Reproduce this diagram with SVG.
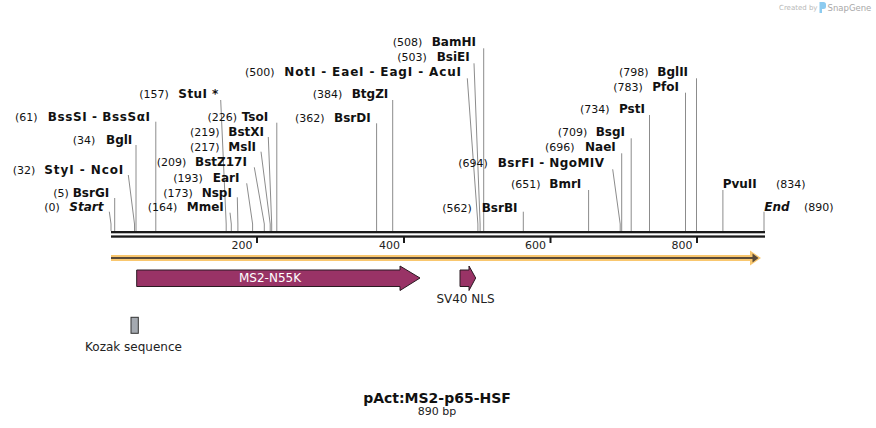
<svg xmlns="http://www.w3.org/2000/svg" width="876" height="428" viewBox="0 0 876 428">
<style>
.n{font-family:"DejaVu Sans",Verdana,sans-serif;font-size:11px;fill:#111}
.e{font-family:"DejaVu Sans",Verdana,sans-serif;font-size:12px;font-weight:bold;fill:#111}
.s{font-family:"DejaVu Sans",Verdana,sans-serif;font-size:12px;font-weight:bold;font-style:italic;fill:#111}
.ln{stroke:#8c8c8c;stroke-width:1;fill:none}
.lab{font-family:"DejaVu Sans",Verdana,sans-serif;font-size:12px;fill:#222}
.tk{font-family:"DejaVu Sans",Verdana,sans-serif;font-size:11px;fill:#222;text-anchor:end}
.feat{fill:#993366;stroke:#2a1a22;stroke-width:1}
</style>
<rect width="876" height="428" fill="#fff"/>
<g id="logo">
<text x="779" y="10" style="font-family:'DejaVu Sans',sans-serif;font-size:7px;fill:#b8b8b8">Created by</text>
<path d="M819.5 2 h4 a2.5 2.5 0 0 1 2.5 2.5 v2 a2.5 2.5 0 0 1 -2.5 2.5 h-1.5 v4 h-2.5 z" fill="#8ccbf0"/>
<text x="827.5" y="10.5" style="font-family:'DejaVu Sans',sans-serif;font-size:8.5px;fill:#a8a8a8">SnapGene</text>
</g>
<g id="connectors">
<polyline class="ln" points="483.7,48.3 483.7,231"/>
<polyline class="ln" points="474,63.3 480.1,224 480.1,231"/>
<polyline class="ln" points="467.3,78.3 477.9,224 477.9,231"/>
<polyline class="ln" points="696.5,78.3 696.5,231"/>
<polyline class="ln" points="685.5,92.7 685.5,231"/>
<polyline class="ln" points="220.7,100 226.2,224 226.2,231"/>
<polyline class="ln" points="392.7,100 392.7,231"/>
<polyline class="ln" points="649.5,115 649.5,231"/>
<polyline class="ln" points="155.8,121.7 155.8,231"/>
<polyline class="ln" points="376.6,123.3 376.6,231"/>
<polyline class="ln" points="276.8,122.7 276.8,231"/>
<polyline class="ln" points="268.3,137 271.7,224 271.7,231"/>
<polyline class="ln" points="631.2,138.3 631.2,231"/>
<polyline class="ln" points="136,145 136,231"/>
<polyline class="ln" points="261,151.7 270.2,224 270.2,231"/>
<polyline class="ln" points="621.7,153.3 621.7,231"/>
<polyline class="ln" points="254.3,167.3 264.3,224 264.3,231"/>
<polyline class="ln" points="612.7,169.3 620.2,224 620.2,231"/>
<polyline class="ln" points="128.3,175 134.5,224 134.5,231"/>
<polyline class="ln" points="246.7,183.3 252.6,224 252.6,231"/>
<polyline class="ln" points="588.6,190 588.6,231"/>
<polyline class="ln" points="722.9,190 722.9,231"/>
<polyline class="ln" points="237.3,197.3 237.9,224 237.9,231"/>
<polyline class="ln" points="114.7,198 114.7,231"/>
<polyline class="ln" points="230,212.7 231.3,224 231.3,231"/>
<polyline class="ln" points="109.3,211.7 111,224 111,231"/>
<polyline class="ln" points="523.3,211.7 523.3,231"/>
<polyline class="ln" points="764,211.7 764,231"/>
</g>
<g id="site-BamHI"><text class="n" x="392.7" y="46">(508)</text><text class="e" x="431.7" y="46">BamHI</text></g>
<g id="site-BsiEI"><text class="n" x="397.3" y="61">(503)</text><text class="e" x="436.7" y="61">BsiEI</text></g>
<g id="site-NotI"><text class="n" x="245" y="76">(500)</text><text class="e" x="284.3" y="76" textLength="176.7" lengthAdjust="spacing">NotI - EaeI - EagI - AcuI</text></g>
<g id="site-BglII"><text class="n" x="619" y="76">(798)</text><text class="e" x="657.3" y="76">BglII</text></g>
<g id="site-PfoI"><text class="n" x="613.3" y="91">(783)</text><text class="e" x="652.3" y="91">PfoI</text></g>
<g id="site-StuI"><text class="n" x="139.3" y="98">(157)</text><text class="e" x="178.3" y="98" textLength="40" lengthAdjust="spacing">StuI *</text></g>
<g id="site-BtgZI"><text class="n" x="312.7" y="98">(384)</text><text class="e" x="351.7" y="98">BtgZI</text></g>
<g id="site-PstI"><text class="n" x="580" y="113">(734)</text><text class="e" x="619" y="113">PstI</text></g>
<g id="site-BssSI"><text class="n" x="15" y="121">(61)</text><text class="e" x="47.7" y="121" textLength="102.3" lengthAdjust="spacing">BssSI - BssSαI</text></g>
<g id="site-BsrDI"><text class="n" x="295" y="121.5">(362)</text><text class="e" x="334" y="121.5">BsrDI</text></g>
<g id="site-TsoI"><text class="n" x="207.5" y="121">(226)</text><text class="e" x="241.7" y="121">TsoI</text></g>
<g id="site-BstXI"><text class="n" x="190" y="136">(219)</text><text class="e" x="228.3" y="136">BstXI</text></g>
<g id="site-BsgI"><text class="n" x="557.7" y="136">(709)</text><text class="e" x="595.7" y="136">BsgI</text></g>
<g id="site-BglI"><text class="n" x="72.7" y="143.5">(34)</text><text class="e" x="106" y="143.5">BglI</text></g>
<g id="site-MslI"><text class="n" x="190" y="151">(217)</text><text class="e" x="228.3" y="151">MslI</text></g>
<g id="site-NaeI"><text class="n" x="545" y="151">(696)</text><text class="e" x="585" y="151">NaeI</text></g>
<g id="site-BstZ17I"><text class="n" x="156.7" y="166">(209)</text><text class="e" x="195" y="166">BstZ17I</text></g>
<g id="site-BsrFI"><text class="n" x="458.3" y="166.5">(694)</text><text class="e" x="497.7" y="166.5" textLength="106.3" lengthAdjust="spacing">BsrFI - NgoMIV</text></g>
<g id="site-StyI"><text class="n" x="12.7" y="173.5">(32)</text><text class="e" x="44.3" y="173.5" textLength="79" lengthAdjust="spacing">StyI - NcoI</text></g>
<g id="site-EarI"><text class="n" x="173.3" y="181.5">(193)</text><text class="e" x="212.7" y="181.5">EarI</text></g>
<g id="site-BmrI"><text class="n" x="511" y="188">(651)</text><text class="e" x="549.3" y="188">BmrI</text></g>
<g id="site-PvuII"><text class="e" x="722.7" y="188">PvuII</text><text class="n" x="776" y="188">(834)</text></g>
<g id="site-NspI"><text class="n" x="163.3" y="196.7">(173)</text><text class="e" x="201.7" y="196.7">NspI</text></g>
<g id="site-BsrGI"><text class="n" x="53.3" y="196.7">(5)</text><text class="e" x="72.7" y="196.7">BsrGI</text></g>
<g id="site-MmeI"><text class="n" x="147.7" y="211.3">(164)</text><text class="e" x="186.7" y="211.3">MmeI</text></g>
<g id="site-Start"><text class="n" x="44.3" y="211.3">(0)</text><text class="s" x="69.3" y="211.3">Start</text></g>
<g id="site-BsrBI"><text class="n" x="442.3" y="211.5">(562)</text><text class="e" x="481.7" y="211.5">BsrBI</text></g>
<g id="site-End"><text class="s" x="764.3" y="211">End</text><text class="n" x="804" y="211">(890)</text></g>
<g id="ruler">
<rect x="111" y="231" width="654" height="2.3" fill="#1a1a1a"/>
<rect x="111" y="235.4" width="654" height="2.3" fill="#1a1a1a"/>
<rect x="256" y="237" width="2" height="6" fill="#1a1a1a"/>
<rect x="403" y="237" width="2" height="6" fill="#1a1a1a"/>
<rect x="549.5" y="237" width="2" height="6" fill="#1a1a1a"/>
<rect x="696" y="237" width="2" height="6" fill="#1a1a1a"/>
<text class="tk" x="252.5" y="248.5">200</text>
<text class="tk" x="400" y="248.5">400</text>
<text class="tk" x="546" y="248.5">600</text>
<text class="tk" x="692.5" y="248.5">800</text>
</g>
<g id="orf">
<path d="M111 258 H752" stroke="#F9C76F" stroke-width="6" fill="none"/>
<polygon points="750,250.5 761,258 750,265.5" fill="#F9C76F"/>
<path d="M111 258 H753" stroke="#5a4a38" stroke-width="2" fill="none"/>
<polygon points="752.5,253.5 758.5,258 752.5,262.5" fill="#5a4a38"/>
</g>
<g id="MS2-N55K">
<path class="feat" d="M136.7 270 H400 V266 L420 278 L400 290.5 V286.5 H136.7 Z"/>
<text x="270" y="282" text-anchor="middle" style="font-family:'DejaVu Sans',Verdana,sans-serif;font-size:12px;fill:#fff">MS2-N55K</text>
</g>
<g id="SV40-NLS">
<path class="feat" d="M460 270 H469 V266 L475.7 278 L469 290.5 V286.5 H460 Z"/>
<text class="lab" x="465.5" y="303.3" text-anchor="middle">SV40 NLS</text>
</g>
<g id="Kozak">
<rect x="131" y="317.3" width="7.3" height="16" fill="#a4a9b0" stroke="#333" stroke-width="1"/>
<text class="lab" x="133.5" y="350.5" text-anchor="middle">Kozak sequence</text>
</g>
<g id="title">
<text x="437" y="402.5" text-anchor="middle" style="font-family:'DejaVu Sans',Verdana,sans-serif;font-size:14px;font-weight:bold;fill:#111">pAct:MS2-p65-HSF</text>
<text x="437" y="415" text-anchor="middle" style="font-family:'DejaVu Sans',Verdana,sans-serif;font-size:11px;fill:#222">890 bp</text>
</g>
</svg>
